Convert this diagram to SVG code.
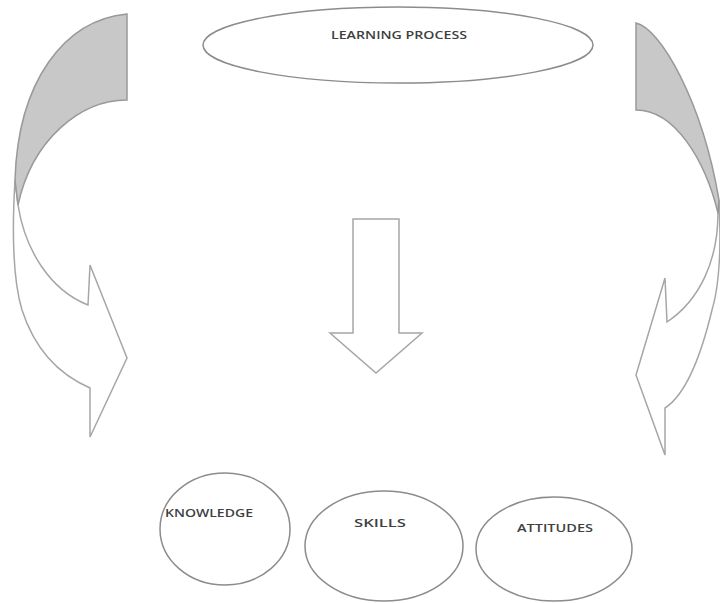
<svg xmlns="http://www.w3.org/2000/svg" width="720" height="603" viewBox="0 0 720 603">
<style>
.arrow{fill:#ffffff;stroke:#a6a6a6;stroke-width:1.5;stroke-linejoin:miter}
.shade{fill:#c8c8c8;stroke:#999999;stroke-width:1.5}
.ell{fill:#ffffff;stroke:#8c8c8c;stroke-width:1.5}
.lbl{font-family:"Open Sans","Liberation Sans",sans-serif;font-weight:600;font-size:11px;fill:#3f3f3f;text-anchor:middle}
</style>
<rect width="720" height="603" fill="#ffffff"/>
<g id="connectors">
  <g id="left-curved-arrow">
    <path class="arrow" d="M15,180 C12,230 13,280 22,310 C35,350 60,375 90,388 L90,437 L127,358 L90,265 L88,305 C50,290 25,250 18,205 Z"/>
    <path class="shade" d="M127,14 C65,20 18,80 15,180 L18,205 C32,140 80,100 127,100 Z"/>
  </g>
  <g id="right-curved-arrow">
    <path class="arrow" d="M719,200 C721,240 721,280 712,310 C700,360 685,395 665,408 L665,455 L636,375 L665,278 L667,322 C700,300 718,260 718,213 Z"/>
    <path class="shade" d="M636,23 C660,28 702,100 719,200 L718,213 C705,160 675,110 636,110 Z"/>
  </g>
  <path id="down-arrow" class="arrow" d="M353,219 L399,219 L399,333 L422,333 L376,373 L330,333 L353,333 Z"/>
</g>
<g id="learning-process">
  <ellipse class="ell" cx="398" cy="45" rx="195" ry="38"/>
  <text class="lbl" x="399" y="39" textLength="136" lengthAdjust="spacingAndGlyphs">LEARNING PROCESS</text>
</g>
<g id="knowledge">
  <ellipse class="ell" cx="225" cy="529" rx="65" ry="56"/>
  <text class="lbl" x="209" y="517" textLength="88" lengthAdjust="spacingAndGlyphs">KNOWLEDGE</text>
</g>
<g id="skills">
  <ellipse class="ell" cx="384" cy="546" rx="79" ry="55"/>
  <text class="lbl" x="380" y="527" textLength="52" lengthAdjust="spacingAndGlyphs">SKILLS</text>
</g>
<g id="attitudes">
  <ellipse class="ell" cx="554" cy="549" rx="78" ry="52"/>
  <text class="lbl" x="555" y="532" textLength="76" lengthAdjust="spacingAndGlyphs">ATTITUDES</text>
</g>
</svg>
